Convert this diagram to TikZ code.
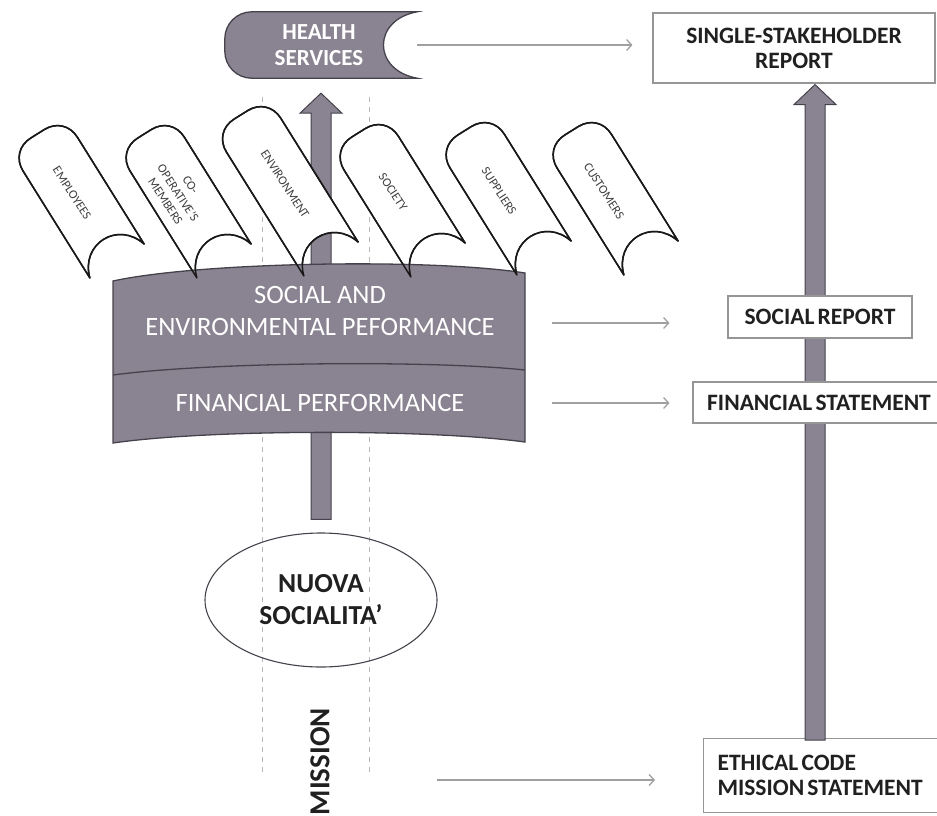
\documentclass[tikz,border=0pt]{standalone}
\usepackage{fontspec}
\setmainfont{Carlito}
\newfontfamily\tightfont[WordSpace=0.6]{Carlito}
\usetikzlibrary{arrows.meta,shapes.geometric,calc}

\definecolor{panel}{RGB}{138,132,146}
\definecolor{panelline}{RGB}{70,66,76}
\definecolor{inkdark}{RGB}{32,32,32}
\definecolor{boxline}{RGB}{150,150,150}
\definecolor{guidegray}{RGB}{185,185,185}
\definecolor{linkgray}{RGB}{160,160,160}

% stakeholder tape: tips at the bottom (y = 0), rounded end at y = -#1
\newcommand{\tapepath}[1]{(32,0) -- (32,-#1+24) .. controls (32,-#1+10) and (22,-#1) .. (8,-#1) -- (-8,-#1) .. controls (-22,-#1) and (-32,-#1+10) .. (-32,-#1+24) -- (-32,0) .. controls (-22,-34) and (22,-34) .. (32,0) -- cycle}

\begin{document}
\begin{tikzpicture}[x=1pt,y=-1pt,
  report/.style={draw=boxline, line width=1.1pt, fill=white, text=inkdark,
    font=\tightfont\fontsize{23.5}{25}\selectfont\bfseries,
    align=center, inner sep=0pt},
  garrow/.style={draw=linkgray, line width=1.3pt, -{Straight Barb[length=5pt,width=11pt]}},
  guide/.style={draw=guidegray, line width=1pt, dash pattern=on 5pt off 5pt},
  tape/.style={fill=white, draw=black!90, line width=1.5pt, line join=round},
  tapeedge/.style={draw=black!90, line width=1.5pt, line join=round},
  tapelabel/.style={font=\fontsize{12.5}{15}\selectfont, text=black!75, rotate=-57,
    align=center, inner sep=0pt},
  panelshape/.style={fill=panel, draw=panelline, line width=1.3pt},
  paneltext/.style={text=white, font=\fontsize{26.5}{32}\selectfont, align=center, inner sep=0pt},
  bigarrow/.style={fill=panel, draw=panelline, line width=1pt}]

\useasboundingbox (0,0) rectangle (937,815);

% anchors of the health-services tab and the reports column
\node[minimum width=192, minimum height=66, inner sep=0pt] (hs) at (321,45) {};
\node[report, minimum width=282, minimum height=70] (ssr) at (794,48) {SINGLE-STAKEHOLDER\\REPORT};
\node[report, anchor=north west, minimum height=74, text width=215, inner xsep=14pt, align=left]
  (eth) at (703,738) {\spaceskip=0pt\relax ETHICAL CODE\\MISSION STATEMENT};

% dashed guides of the mission column
\draw[guide] (262,97) -- (262,775);
\draw[guide] (369,97) -- (369,775);

% nuova socialita'
\node[ellipse, draw=panelline, line width=1.1pt, minimum width=232, minimum height=134,
  text=inkdark, font=\fontsize{27.5}{32}\selectfont\bfseries, align=center, inner sep=0pt]
  (ns) at (321,600) {NUOVA\\SOCIALITA’};

% upward arrow from nuova socialita' to health services
\path[bigarrow] let \p1=($(ns.north)+(0,-13)$), \p2=($(hs.south)+(0,15)$) in
  (\x1-10pt,\y1) -- (\x1-10pt,\y2-20pt) -- (\x1-21pt,\y2-20pt) -- (\x1,\y2)
  -- (\x1+21pt,\y2-20pt) -- (\x1+10pt,\y2-20pt) -- (\x1+10pt,\y1) -- cycle;

% stakeholder tapes
\foreach \x/\y/\l in {117/261/150, 224/261/150, 331/259/170, 438/260/150, 544/258/150, 651/258/150}
  {\path[tape, shift={(\x,\y)}, rotate=32] \tapepath{\l};}

% performance panel
\path[panelshape] (113,281) .. controls (200,262) and (430,258) .. (525,273)
  -- (525,442) .. controls (430,429) and (210,429) .. (113,443) -- cycle;
\draw[panelline, line width=1.3pt] (113,375) .. controls (210,362) and (430,360) .. (525,370);

% tape outlines over the panel edge
\foreach \x/\y/\l in {117/261/150, 224/261/150, 331/259/170, 438/260/150, 544/258/150, 651/258/150}
  {\path[tapeedge, shift={(\x,\y)}, rotate=32] \tapepath{\l};}

\node[tapelabel] (t-emp) at (72,193) {EMPLOYEES};
\node[tapelabel] (t-coop) at (178,193) {CO-\\OPERATIVE’S\\MEMBERS};
\node[tapelabel] (t-env) at (285,184) {ENVIRONMENT};
\node[tapelabel] (t-soc) at (393,192) {SOCIETY};
\node[tapelabel] (t-sup) at (499,191) {SUPPLIERS};
\node[tapelabel] (t-cus) at (604,191) {CUSTOMERS};

\node[paneltext] (sep) at (320,311) {SOCIAL AND\\ENVIRONMENTAL PEFORMANCE};
\node[paneltext] (fp) at (320,403) {FINANCIAL PERFORMANCE};

% health services tab: rounded left end, hollow right end
\path[panelshape] (hs.north east) -- ($(hs.north west)+(27,0)$)
  .. controls ($(hs.north west)+(12,0)$) and ($(hs.north west)+(0,12)$) .. ($(hs.north west)+(0,27)$)
  -- ($(hs.south west)+(0,-27)$)
  .. controls ($(hs.south west)+(0,-12)$) and ($(hs.south west)+(12,0)$) .. ($(hs.south west)+(27,0)$)
  -- (hs.south east)
  .. controls ($(hs.south east)+(-45,-8)$) and ($(hs.north east)+(-45,8)$) .. (hs.north east) -- cycle;
\node[text=white, font=\fontsize{23}{26}\selectfont\bfseries, align=center, inner sep=0pt]
  (hs-label) at (319,45) {HEALTH\\SERVICES};

% reporting spine
\coordinate (spine) at (815,0);
\path[bigarrow] let \p1=($(spine |- eth.north)+(0,2)$), \p2=($(spine |- ssr.south)+(0,1)$) in
  (\x1-10pt,\y1) -- (\x1-10pt,\y2-20pt) -- (\x1-21pt,\y2-20pt) -- (\x1,\y2)
  -- (\x1+21pt,\y2-20pt) -- (\x1+10pt,\y2-20pt) -- (\x1+10pt,\y1) -- cycle;

\node[report, minimum width=184, minimum height=42] (sr) at (820,317) {SOCIAL REPORT};
\node[report, minimum width=252, minimum height=41] (fs) at (819,402.5) {FINANCIAL STATEMENT};

% links to the reports
\coordinate (l-sr) at (552,323);
\coordinate (l-fs) at (552,403);
\coordinate (l-mi) at (437,780);
\draw[garrow, shorten >=20pt] (hs.east) -- (hs.east -| ssr.west);
\draw[garrow, shorten >=58pt] (l-sr) -- (l-sr -| sr.west);
\draw[garrow, shorten >=23pt] (l-fs) -- (l-fs -| fs.west);
\draw[garrow, shorten >=48pt] (l-mi) -- (l-mi -| eth.west);

% mission label, running off the lower edge
\node[rotate=90, text=inkdark, inner sep=0pt, anchor=east,
  font=\fontsize{29}{30}\selectfont\bfseries]
  (mission) at (320,708) {MISSION};

\end{tikzpicture}
\end{document}
